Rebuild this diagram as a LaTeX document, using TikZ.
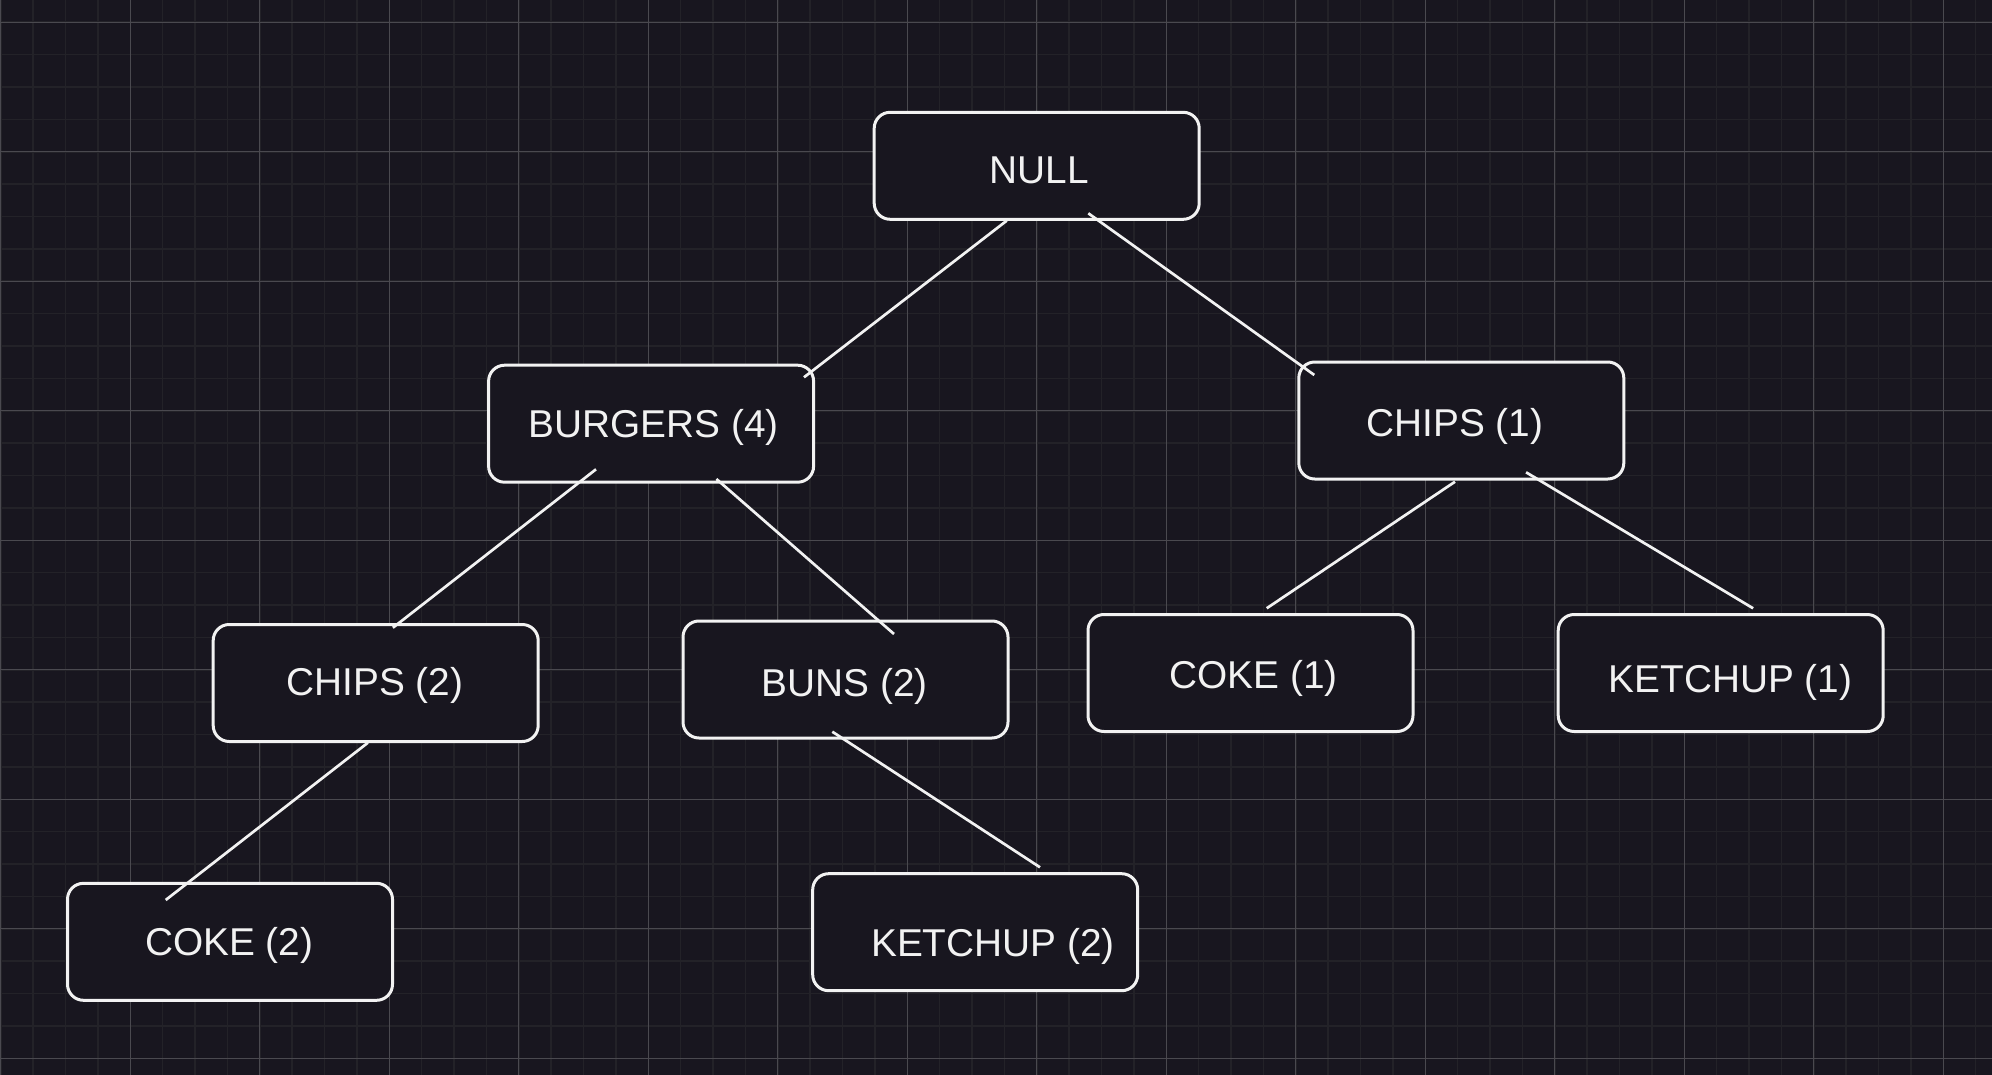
\documentclass[tikz,border=0pt]{standalone}
\usepackage{fontspec}
\setmainfont{Liberation Sans}
\usetikzlibrary{calc}
\definecolor{bg}{HTML}{18161F}
\definecolor{minorc}{HTML}{232228}
\definecolor{majorc}{HTML}{4A494F}
\definecolor{ink}{HTML}{F2F2F2}
\begin{document}
\begin{tikzpicture}[x=1pt,y=-1pt,
  box/.style={draw=ink, line width=3pt, fill=bg, rounded corners=16pt,
    minimum width=325pt, minimum height=117pt, inner sep=0pt, outer sep=0pt},
  lbl/.style={text=ink, font=\fontsize{38.8}{46}\selectfont, anchor=base, inner sep=0pt},
  link/.style={draw=ink, line width=2.7pt},
  minorline/.style={draw=minorc, line width=1.6pt},
  majorline/.style={draw=majorc, line width=1pt}]
\useasboundingbox (0,0) rectangle (1992,1075);
\fill[bg] (0,0) rectangle (1992,1075);
% grid
\foreach \i in {0,...,62} {\draw[minorline] ({0.8+\i*32.375},0) -- ({0.8+\i*32.375},1075);}
\foreach \j in {-1,...,33} {\draw[minorline] (0,{22.3+\j*32.375}) -- (1992,{22.3+\j*32.375});}
\foreach \i in {0,...,15} {\draw[majorline] ({0.8+\i*129.5},0) -- ({0.8+\i*129.5},1075);}
\foreach \j in {0,...,8} {\draw[majorline] (0,{22.3+\j*129.5}) -- (1992,{22.3+\j*129.5});}
% boxes
\node[box, minimum height=107pt] (null) at (1036.7,165.8) {};
\node[box] (burgers) at (651.1,423.7) {};
\node[box] (chipsA) at (1461.3,420.5) {};
\node[box] (chipsB) at (375.7,683) {};
\node[box] (buns) at (845.5,679.5) {};
\node[box] (cokeA) at (1250.5,673) {};
\node[box] (ketchupA) at (1720.7,673) {};
\node[box] (cokeB) at (230,941.8) {};
\node[box] (ketchupB) at (975.2,932.2) {};
% connectors
\draw[link] ($(null)+(-30,54.9)$) -- ($(burgers)+(152.9,-46.4)$);
\draw[link] ($(null)+(51.6,47.5)$) -- ($(chipsA)+(-147,-45.5)$);
\draw[link] ($(burgers)+(-55.1,45.6)$) -- ($(chipsB)+(17.2,-55.3)$);
\draw[link] ($(burgers)+(65.3,55.3)$) -- ($(buns)+(48.5,-45.5)$);
\draw[link] ($(chipsA)+(-6.3,61.2)$) -- ($(cokeA)+(16.2,-64.7)$);
\draw[link] ($(chipsA)+(64.8,51.8)$) -- ($(ketchupA)+(32.4,-64.7)$);
\draw[link] ($(chipsB)+(-7.8,59.7)$) -- ($(cokeB)+(-64.3,-41.8)$);
\draw[link] ($(buns)+(-13.2,52.2)$) -- ($(ketchupB)+(64.8,-64.9)$);
% labels
\node[lbl] (tnull) at (1039.3,183.3) {NULL};
\node[lbl] (tburgers) at (653.5,437) {BURGERS (4)};
\node[lbl] (tchipsA) at (1455,436.7) {CHIPS (1)};
\node[lbl] (tchipsB) at (375,695.7) {CHIPS (2)};
\node[lbl] (tbuns) at (844.7,696) {BUNS (2)};
\node[lbl] (tcokeA) at (1253.6,688.3) {COKE (1)};
\node[lbl] (tketchupA) at (1730.4,692.7) {KETCHUP (1)};
\node[lbl] (tcokeB) at (229.3,955.3) {COKE (2)};
\node[lbl] (tketchupB) at (993,956) {KETCHUP (2)};
\end{tikzpicture}
\end{document}
